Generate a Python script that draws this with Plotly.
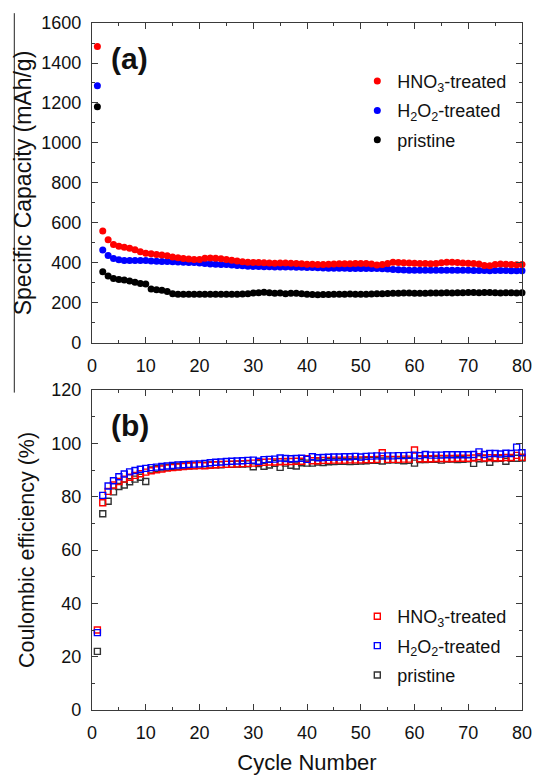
import plotly.graph_objects as go
from plotly.subplots import make_subplots

cycles = list(range(1, 81))

cap_hno3 = [1482, 560, 516, 492, 484, 479, 474, 466, 456, 449,
            446, 443, 440, 436, 430, 426, 423, 420, 418, 418,
            424, 425, 424, 421, 418, 414, 410, 406, 404, 403,
            402, 401, 400, 399, 400, 400, 399, 398, 396, 394,
            394, 393, 393, 394, 395, 396, 396, 396, 397, 397,
            397, 395, 390, 393, 398, 404, 403, 401, 400, 399,
            398, 397, 396, 398, 401, 404, 404, 402, 400, 399,
            398, 395, 388, 386, 393, 395, 394, 392, 391, 392]

cap_h2o2 = [1286, 465, 437, 423, 416, 413, 412, 412, 412, 412,
            410, 409, 408, 407, 406, 405, 404, 403, 402, 400,
            397, 395, 394, 393, 392, 390, 388, 386, 384, 383,
            382, 381, 381, 380, 380, 380, 380, 379, 379, 378,
            377, 376, 375, 374, 374, 374, 374, 373, 373, 373,
            373, 373, 372, 371, 370, 368, 366, 365, 364, 364,
            364, 364, 364, 364, 364, 364, 364, 364, 364, 364,
            363, 363, 362, 361, 362, 362, 362, 361, 361, 361]

cap_pristine = [1181, 356, 335, 322, 318, 315, 310, 304, 298, 295,
                270, 266, 264, 258, 246, 244, 244, 244, 244, 244,
                243, 243, 243, 243, 243, 244, 244, 245, 246, 250,
                251, 254, 251, 249, 250, 246, 249, 249, 246, 243,
                242, 241, 242, 242, 243, 244, 244, 245, 244, 243,
                244, 245, 246, 246, 247, 248, 249, 250, 250, 249,
                248, 249, 250, 250, 250, 251, 250, 251, 251, 252,
                252, 251, 252, 252, 251, 250, 251, 251, 250, 251]

ce_hno3 = [30.0, 77.7, 82.0, 84.4, 85.7, 86.6, 87.3, 88.0, 88.6, 89.2,
           89.7, 90.1, 90.4, 90.7, 90.9, 91.1, 91.3, 91.5, 91.6, 91.7,
           91.6, 91.8, 92.0, 92.1, 92.1, 92.2, 92.3, 92.4, 92.5, 92.6,
           92.8, 92.9, 93.0, 93.0, 93.1, 93.2, 93.2, 93.3, 93.3, 94.2,
           93.5, 93.5, 93.6, 93.6, 93.7, 93.7, 93.7, 93.8, 93.8, 93.8,
           93.9, 93.9, 94.0, 96.5, 94.0, 94.0, 94.0, 94.1, 94.1, 97.5,
           94.2, 94.2, 94.2, 94.3, 94.3, 94.3, 94.3, 94.4, 94.4, 94.4,
           94.5, 95.0, 94.5, 94.6, 94.6, 94.6, 94.7, 94.7, 95.5, 94.8]

ce_h2o2 = [29.0, 80.5, 84.0, 86.0, 87.5, 88.5, 89.3, 89.8, 90.3, 90.6,
           90.9, 91.1, 91.3, 91.5, 91.7, 91.9, 92.0, 92.1, 92.2, 92.3,
           92.5, 92.7, 92.9, 93.0, 93.2, 93.3, 93.4, 93.5, 93.6, 93.7,
           93.3, 93.9, 94.0, 94.1, 94.5, 94.3, 94.2, 94.3, 94.4, 94.0,
           95.0, 94.6, 94.7, 94.8, 94.9, 94.9, 95.0, 95.0, 95.1, 94.9,
           95.1, 95.2, 95.3, 95.2, 95.3, 95.3, 95.4, 95.4, 95.5, 95.6,
           95.4, 95.8, 95.6, 95.6, 95.6, 95.7, 95.7, 95.7, 95.7, 95.7,
           95.8, 96.8, 95.8, 96.2, 96.2, 96.0, 96.3, 96.2, 98.6, 96.5]

ce_pristine = [22.0, 73.6, 78.3, 81.8, 83.8, 84.4, 85.6, 86.6, 87.3, 85.7,
               90.0, 90.5, 90.8, 91.0, 91.2, 91.3, 91.5, 91.6, 91.7, 91.8,
               91.8, 91.9, 92.0, 92.0, 92.1, 92.1, 92.2, 92.2, 92.3, 91.2,
               92.4, 91.4, 91.9, 92.5, 91.0, 92.6, 91.8, 91.5, 92.7, 92.6,
               92.6, 93.0, 92.8, 93.1, 93.2, 93.3, 93.3, 93.2, 93.3, 93.4,
               93.5, 93.6, 93.6, 93.4, 93.7, 93.8, 93.7, 93.5, 93.6, 92.6,
               93.9, 93.9, 94.0, 94.0, 93.7, 94.1, 94.1, 93.9, 94.0, 94.2,
               92.5, 94.2, 94.3, 92.9, 94.3, 94.4, 93.3, 94.4, 94.4, 94.5]

names = ["HNO<sub>3</sub>-treated", "H<sub>2</sub>O<sub>2</sub>-treated", "pristine"]
colors = ["#ff0000", "#0000ff", "#000000"]

FONT = "Liberation Sans, Arial, Helvetica, sans-serif"
AXIS_COLOR = "#3a3a3a"
TEXT_COLOR = "#111111"

fig = make_subplots(rows=2, cols=1, vertical_spacing=0.0685)

# (a) specific capacity: filled circles, red drawn last so it sits on top
cap_series = [cap_hno3, cap_h2o2, cap_pristine]
for idx in [2, 1, 0]:
    fig.add_trace(go.Scatter(
        x=cycles, y=cap_series[idx], mode="markers", name=names[idx],
        marker=dict(symbol="circle", size=7, color=colors[idx]),
        legend="legend", legendrank=idx + 1, legendgroup=f"a{idx}",
        cliponaxis=False,
    ), row=1, col=1)

# (b) coulombic efficiency: open squares, blue drawn last
ce_series = [ce_hno3, ce_h2o2, ce_pristine]
ce_colors = ["#ff0000", "#0000ff", "#333333"]
for idx in [2, 0, 1]:
    fig.add_trace(go.Scatter(
        x=cycles, y=ce_series[idx], mode="markers", name=names[idx],
        marker=dict(symbol="square-open", size=6, color=ce_colors[idx],
                    line=dict(width=1.4, color=ce_colors[idx])),
        legend="legend2", legendrank=idx + 1, legendgroup=f"b{idx}",
        cliponaxis=False,
    ), row=2, col=1)

axis_common = dict(
    showline=True, linecolor=AXIS_COLOR, linewidth=1.4, mirror="ticks",
    ticks="inside", ticklen=6, tickwidth=1.3, tickcolor=AXIS_COLOR,
    showgrid=False, zeroline=False,
    tickfont=dict(family=FONT, size=18, color=TEXT_COLOR),
)

fig.update_xaxes(range=[0, 80], dtick=10, tick0=0, ticklabelstandoff=6,
                 minor=dict(ticks="inside", ticklen=3, dtick=5, tickcolor=AXIS_COLOR, tickwidth=1.2),
                 **axis_common)
fig.update_xaxes(title=dict(text="Cycle Number", font=dict(family=FONT, size=22, color=TEXT_COLOR),
                            standoff=12), row=2, col=1)

fig.update_yaxes(range=[0, 1600], dtick=200, tick0=0, ticklabelstandoff=6,
                 minor=dict(ticks="inside", ticklen=3, dtick=100, tickcolor=AXIS_COLOR, tickwidth=1.2),
                 title=dict(text="Specific Capacity (mAh/g)",
                            font=dict(family=FONT, size=23, color=TEXT_COLOR), standoff=3),
                 row=1, col=1, **axis_common)
fig.update_yaxes(range=[0, 120], dtick=20, tick0=0, ticklabelstandoff=6,
                 minor=dict(ticks="inside", ticklen=3, dtick=10, tickcolor=AXIS_COLOR, tickwidth=1.2),
                 title=dict(text="Coulombic efficiency (%)",
                            font=dict(family=FONT, size=21.5, color=TEXT_COLOR), standoff=10),
                 row=2, col=1, **axis_common)

legend_common = dict(
    font=dict(family=FONT, size=18, color=TEXT_COLOR),
    bgcolor="rgba(0,0,0,0)", borderwidth=0,
    xanchor="left", yanchor="top", tracegroupgap=3,
    itemsizing="trace",
)

fig.update_layout(
    width=542, height=780,
    margin=dict(l=92, r=10, t=23, b=59),
    paper_bgcolor="white", plot_bgcolor="white",
    showlegend=True,
    legend=dict(x=0.617, y=0.942, **legend_common),
    legend2=dict(x=0.617, y=0.163, **legend_common),
    annotations=[
        dict(text="<b>(a)</b>", xref="x domain", yref="y domain", x=0.088, y=0.89,
             xanchor="center", yanchor="middle",
             showarrow=False, font=dict(family=FONT, size=30, color=TEXT_COLOR)),
        dict(text="<b>(b)</b>", xref="x2 domain", yref="y2 domain", x=0.088, y=0.89,
             xanchor="center", yanchor="middle",
             showarrow=False, font=dict(family=FONT, size=30, color=TEXT_COLOR)),
    ],
    shapes=[
        dict(type="line", xref="paper", yref="paper", x0=-0.1807, x1=-0.1807,
             y0=1.0143, y1=0.462, line=dict(color="#222222", width=1)),
    ],
)

fig.write_html("out.html")
